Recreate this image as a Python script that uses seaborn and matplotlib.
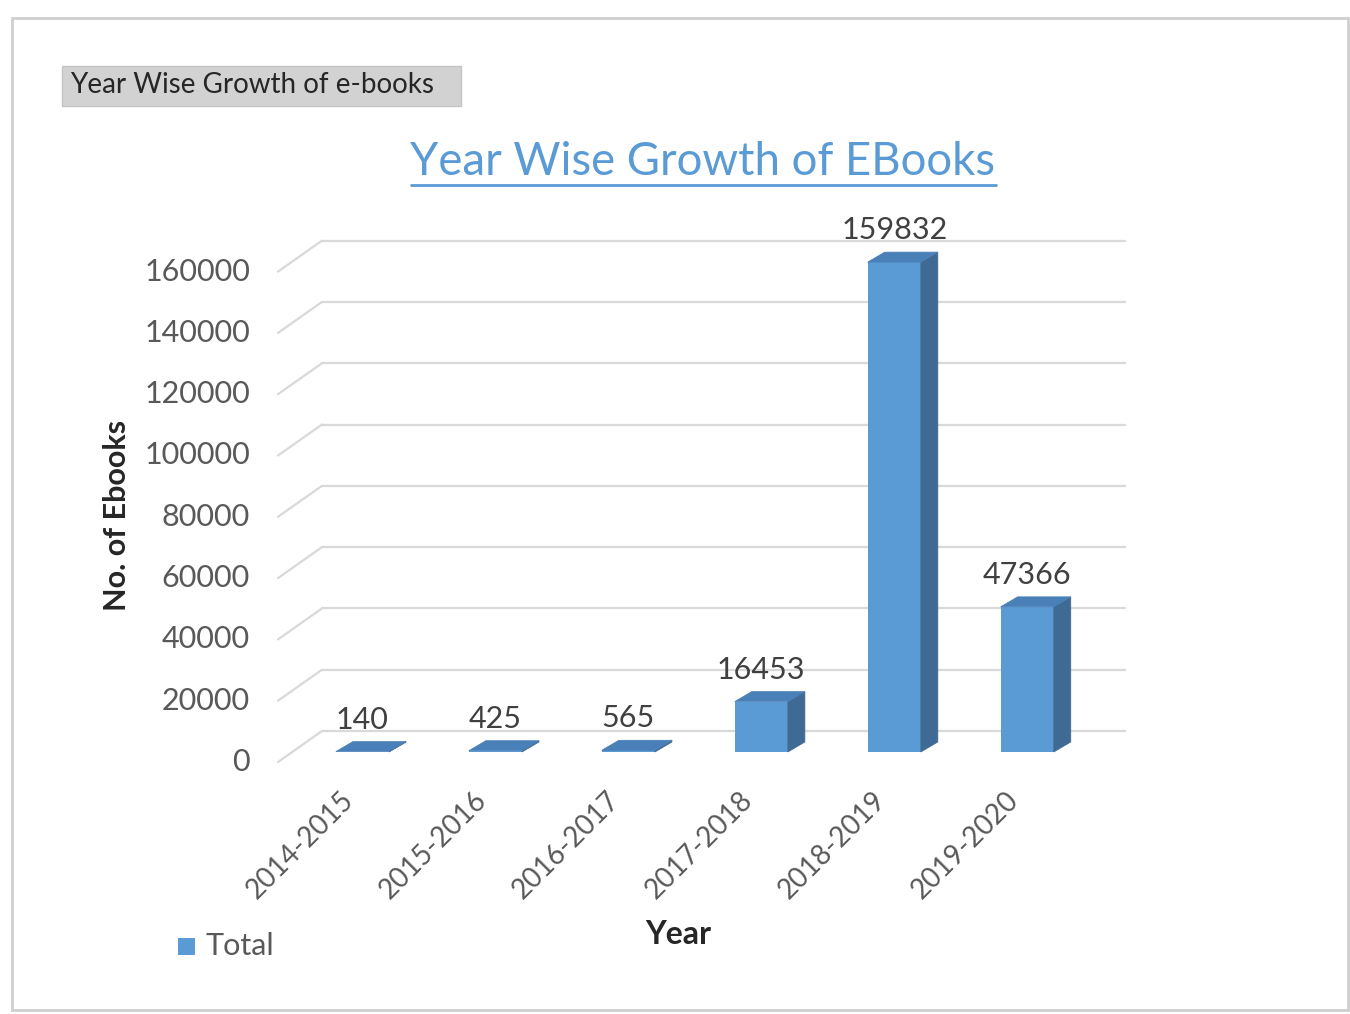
import matplotlib
matplotlib.use("Agg")
import matplotlib.pyplot as plt
import matplotlib.transforms as mtransforms
from matplotlib.patches import Polygon, Rectangle
from matplotlib.lines import Line2D
import seaborn as sns
import pandas as pd

# Data
years = ["2014-2015", "2015-2016", "2016-2017", "2017-2018", "2018-2019", "2019-2020"]
ebooks = [140, 425, 565, 16453, 159832, 47366]
y_ticks = [0, 20000, 40000, 60000, 80000, 100000, 120000, 140000, 160000]

FRONT = "#5b9bd5"
SIDE = "#3e6a93"
TOP = "#4a80b8"
TEXT_GRAY = "#595959"
GRID = "#d9d9d9"

sns.set_theme(style="white")
plt.rcParams["font.family"] = ["Lato", "DejaVu Sans"]

DPI = 100
W, H = 1350, 1014
fig = plt.figure(figsize=(W / DPI, H / DPI), dpi=DPI)
fig.patch.set_facecolor("white")

def px_box(left, top, right, bottom):
    return [left / W, 1 - bottom / H, (right - left) / W, (bottom - top) / H]

# Plotting plane of the bar front faces
ax = fig.add_axes(px_box(292, 261.6, 1095, 752))
df = pd.DataFrame({"Year": years, "Total": ebooks})
sns.barplot(data=df, x="Year", y="Total", color=FRONT, saturation=1,
            width=0.4, ax=ax, zorder=3, linewidth=0)
ax.set_xlim(-0.53, 5.51)
ax.set_ylim(0, 160000)
for s in ax.spines.values():
    s.set_visible(False)
ax.set_xticks([])
ax.set_yticks([])
ax.set_xlabel("")
ax.set_ylabel("")
ax.patch.set_alpha(0)

ident = mtransforms.IdentityTransform()
ytrans = ax.get_yaxis_transform()

# depth offsets in pixels (display coords, y up)
BACK = (30, 21)
FRONT_OFF = (-14, -10)
DEPTH = (17, 10)

# back wall gridlines
back_tr = mtransforms.offset_copy(ytrans, fig=fig, x=BACK[0], y=BACK[1], units="dots")
lab_tr = mtransforms.offset_copy(ytrans, fig=fig, x=-42, y=-10, units="dots")
for v in y_ticks:
    ax.plot([0, 1], [v, v], transform=back_tr, color=GRID, lw=1.6,
            zorder=1, clip_on=False)
    # side wall diagonal from the label side to the back wall
    p = ytrans.transform((0, v))
    fig.add_artist(Line2D([p[0] + FRONT_OFF[0], p[0] + BACK[0]],
                          [p[1] + FRONT_OFF[1], p[1] + BACK[1]],
                          transform=ident, color=GRID, lw=1.6, zorder=1))
    # value axis labels on the front plane
    ax.text(0, v, f"{v}", transform=lab_tr, ha="right", va="center",
            fontsize=22, color=TEXT_GRAY, clip_on=False)

# depth faces of each bar, built from the bar geometry
lbl_tr = mtransforms.offset_copy(ax.transData, fig=fig, x=0, y=32, units="dots")
for bar, val in zip(ax.patches, ebooks):
    x0 = bar.get_x()
    x1 = x0 + bar.get_width()
    h = bar.get_height()
    bl = ax.transData.transform((x0, 0))
    br = ax.transData.transform((x1, 0))
    tl = ax.transData.transform((x0, h))
    tr = ax.transData.transform((x1, h))
    dx, dy = DEPTH
    side = Polygon([br, tr, (tr[0] + dx, tr[1] + dy), (br[0] + dx, br[1] + dy)],
                   closed=True, facecolor=SIDE, edgecolor=SIDE, lw=0.5,
                   transform=ident, zorder=4)
    top = Polygon([tl, tr, (tr[0] + dx, tr[1] + dy), (tl[0] + dx, tl[1] + dy)],
                  closed=True, facecolor=TOP, edgecolor=TOP, lw=0.5,
                  transform=ident, zorder=4)
    fig.add_artist(side)
    fig.add_artist(top)
    # value label above the bar
    ax.text(x0 + bar.get_width() / 2, h, f"{val}", transform=lbl_tr,
            ha="center", va="center", fontsize=22, color="#404040",
            clip_on=False, zorder=5)

# category labels
cat_tr = mtransforms.offset_copy(ax.transData, fig=fig, x=-22, y=-35, units="dots")
for i, yr in enumerate(years):
    ax.text(i, 0, yr, transform=cat_tr, rotation=45, ha="right", va="top",
            rotation_mode="anchor", fontsize=20, color=TEXT_GRAY, clip_on=False)

# axis titles
fig.text(117 / W, 1 - 515 / H, "No. of Ebooks", rotation=90, ha="center",
         va="center", fontsize=22, fontweight="bold", color="#262626")
fig.text(678 / W, 1 - 935 / H, "Year", ha="center", va="center",
         fontsize=23, fontweight="bold", color="#262626")

# legend
fig.add_artist(Rectangle((178 / W, 1 - 955 / H), 17 / W, 17 / H,
                         transform=fig.transFigure, facecolor=FRONT,
                         edgecolor="none"))
fig.text(205 / W, 1 - 946 / H, "Total", ha="left", va="center",
         fontsize=22, color=TEXT_GRAY)

# chart title, underlined
title = fig.text(703 / W, 1 - 162 / H, "Year Wise Growth of EBooks",
                 ha="center", va="center", fontsize=32.8, color=FRONT)

# caption box in the upper-left corner
fig.add_artist(Rectangle((62 / W, 1 - 106 / H), 399 / W, 40 / H,
                         transform=fig.transFigure, facecolor="#d2d2d2",
                         edgecolor="#c4c4c4", lw=1))
fig.text(70 / W, 1 - 85 / H, "Year Wise Growth of e-books", ha="left",
         va="center", fontsize=20, color="#262626")

# outer frame
fig.add_artist(Rectangle((12 / W, 1 - 1010 / H), 1336 / W, 992 / H,
                         transform=fig.transFigure, facecolor="none",
                         edgecolor="#cfcfcf", lw=2))

fig.canvas.draw()
bb = title.get_window_extent()
fig.add_artist(Line2D([bb.x0, bb.x1], [bb.y0 - 2, bb.y0 - 2], transform=ident,
                      color=FRONT, lw=2))

fig.savefig("out.png", dpi=DPI)
